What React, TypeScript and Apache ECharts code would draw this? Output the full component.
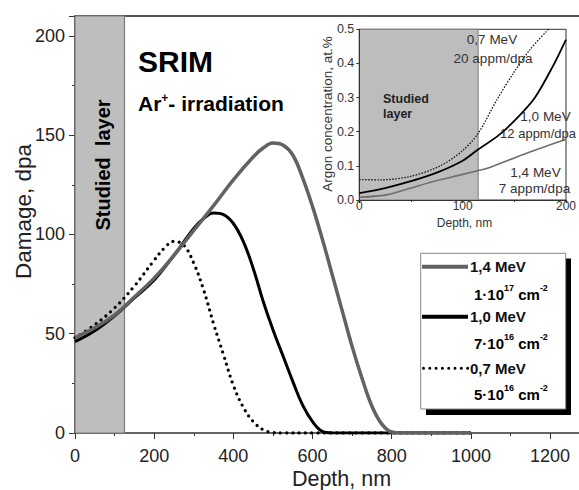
import React, { useEffect, useRef } from 'react';
import * as echarts from 'echarts';

const FONT = '"Liberation Sans", Arial, Helvetica, sans-serif';

// ---- Main chart: damage profiles (depth in nm, damage in dpa) ----
const depth14 = [0, 50, 100, 150, 200, 250, 300, 350, 400, 450, 475, 500, 525, 550, 575, 600, 625, 650, 675, 700, 725, 750, 775, 800, 825, 850, 1000];
const damage14 = [48, 53, 59.5, 68.5, 78, 89.5, 102, 114.5, 127.5, 139, 143.5, 146, 145, 140, 128.5, 114, 97.5, 79.5, 61.5, 43.5, 27.5, 13.5, 4.5, 0.5, 0, 0, 0];

const depth10 = [0, 50, 100, 150, 200, 250, 300, 325, 350, 375, 400, 425, 450, 475, 500, 525, 550, 575, 600, 625, 650, 675, 1000];
const damage10 = [46, 51.5, 59, 68, 77, 89.5, 103, 108, 110.8, 110, 105.5, 96.5, 83, 66.5, 52, 39, 26, 14, 5.7, 0.8, 0, 0, 0];

const depth07 = [0, 50, 100, 150, 200, 225, 250, 275, 300, 325, 350, 375, 400, 425, 450, 475, 500, 525, 550, 1000];
const damage07 = [48, 54.5, 63, 74, 87, 93, 96.5, 94.5, 85.5, 72, 55, 39.5, 24, 13, 5.8, 1.7, 0.2, 0, 0, 0];

const mainLayerDepth = 125; // nm
const mainXTicks = [0, 200, 400, 600, 800, 1000, 1200];
const mainYTicks = [0, 50, 100, 150, 200];

// ---- Inset: argon concentration (depth in nm, at.%) ----
const inDepth14 = [0, 26, 50, 70, 100, 115, 124, 160, 200];
const inConc14 = [0.008, 0.015, 0.035, 0.053, 0.075, 0.086, 0.093, 0.135, 0.178];

const inDepth10 = [0, 25, 50, 75, 100, 115, 135, 154, 170, 187, 200];
const inConc10 = [0.02, 0.035, 0.055, 0.08, 0.115, 0.148, 0.19, 0.244, 0.3, 0.39, 0.47];

const inDepth07 = [0, 20, 48, 77, 99, 115, 133, 149, 165, 183];
const inConc07 = [0.06, 0.059, 0.068, 0.098, 0.142, 0.195, 0.293, 0.371, 0.44, 0.5];

const insetLayerDepth = 115; // nm

const legendNames = ['1,4 MeV', '1,0 MeV', '0,7 MeV'];
const legendFluence = [
  { mant: '1·10', exp: '17' },
  { mant: '7·10', exp: '16' },
  { mant: '5·10', exp: '16' },
];

const zip = (xs: number[], ys: number[]) => xs.map((x, i) => [x, ys[i]]);

export default function App() {
  const ref = useRef<HTMLDivElement>(null);

  useEffect(() => {
    if (!ref.current) return;
    const chart = echarts.init(ref.current, undefined, { renderer: 'svg' });

    const axisLbl = { fontFamily: FONT, color: '#222' };

    const legendRich = {
      n: { fontSize: 15, fontWeight: 'bold', fontFamily: FONT, color: '#111', lineHeight: 22 },
      s: { fontSize: 9, fontWeight: 'bold', fontFamily: FONT, color: '#111', lineHeight: 7, verticalAlign: 'top' },
    };

    const legendRows = [266.7, 316.7, 368.3];
    const fluenceRows = [294.5, 343, 394.5];

    const graphics: any[] = [
      // Main texts
      { type: 'text', x: 138, y: 61, z: 10, style: { text: 'SRIM', fontSize: 30, fontWeight: 'bold', fontFamily: FONT, fill: '#000', align: 'left', verticalAlign: 'middle' } },
      {
        type: 'text', x: 138, y: 103.5, z: 10,
        style: {
          text: '{n|Ar}{s|+}{n|- irradiation}', verticalAlign: 'middle', align: 'left',
          rich: {
            n: { fontSize: 21, fontWeight: 'bold', fontFamily: FONT, color: '#000', lineHeight: 24 },
            s: { fontSize: 12, fontWeight: 'bold', fontFamily: FONT, color: '#000', lineHeight: 13, verticalAlign: 'top' },
          },
        },
      },
      {
        type: 'text', x: 102.5, y: 165, rotation: Math.PI / 2, z: 10,
        style: { text: 'Studied  layer', fontSize: 20, fontWeight: 'bold', fontFamily: FONT, fill: '#000', align: 'center', verticalAlign: 'middle' },
      },
      {
        type: 'text', x: 23.5, y: 211.5, rotation: Math.PI / 2, z: 10,
        style: { text: 'Damage, dpa', fontSize: 22.5, fontFamily: FONT, fill: '#222', align: 'center', verticalAlign: 'middle' },
      },
      {
        type: 'text', x: 341.5, y: 478.5, z: 10,
        style: { text: 'Depth, nm', fontSize: 21.5, fontFamily: FONT, fill: '#222', align: 'center', verticalAlign: 'middle' },
      },
      // Inset texts
      { type: 'text', x: 492, y: 39, z: 10, style: { text: '0,7 MeV', fontSize: 13.5, fontFamily: FONT, fill: '#333', align: 'center', verticalAlign: 'middle' } },
      { type: 'text', x: 493, y: 58.7, z: 10, style: { text: '20 appm/dpa', fontSize: 13.5, fontFamily: FONT, fill: '#333', align: 'center', verticalAlign: 'middle' } },
      { type: 'text', x: 545.5, y: 116, z: 10, style: { text: '1,0 MeV', fontSize: 13.5, fontFamily: FONT, fill: '#333', align: 'center', verticalAlign: 'middle' } },
      { type: 'text', x: 576, y: 133, z: 10, style: { text: '12 appm/dpa', fontSize: 13, fontFamily: FONT, fill: '#333', align: 'right', verticalAlign: 'middle' } },
      { type: 'text', x: 535.5, y: 172, z: 10, style: { text: '1,4 MeV', fontSize: 13.5, fontFamily: FONT, fill: '#333', align: 'center', verticalAlign: 'middle' } },
      { type: 'text', x: 534.5, y: 188, z: 10, style: { text: '7 appm/dpa', fontSize: 13.5, fontFamily: FONT, fill: '#333', align: 'center', verticalAlign: 'middle' } },
      { type: 'text', x: 383, y: 99, z: 10, style: { text: 'Studied', fontSize: 12.5, fontWeight: 'bold', fontFamily: FONT, fill: '#222', align: 'left', verticalAlign: 'middle' } },
      { type: 'text', x: 383, y: 114, z: 10, style: { text: 'layer', fontSize: 12.5, fontWeight: 'bold', fontFamily: FONT, fill: '#222', align: 'left', verticalAlign: 'middle' } },
      {
        type: 'text', x: 327.5, y: 114, rotation: Math.PI / 2, z: 10,
        style: { text: 'Argon concentration, at.%', fontSize: 13.5, fontFamily: FONT, fill: '#333', align: 'center', verticalAlign: 'middle' },
      },
      { type: 'text', x: 464.5, y: 222.5, z: 10, style: { text: 'Depth, nm', fontSize: 12, fontFamily: FONT, fill: '#333', align: 'center', verticalAlign: 'middle' } },
      // Legend box with shadow
      { type: 'rect', shape: { x: 426, y: 258.5, width: 145, height: 156.5 }, style: { fill: '#000' }, z: 20 },
      { type: 'rect', shape: { x: 420.7, y: 253.3, width: 145, height: 155.7 }, style: { fill: '#fff', stroke: '#888', lineWidth: 1 }, z: 21 },
      { type: 'line', shape: { x1: 422, y1: legendRows[0], x2: 468, y2: legendRows[0] }, style: { stroke: '#626262', lineWidth: 4 }, z: 22 },
      { type: 'line', shape: { x1: 422, y1: legendRows[1], x2: 468, y2: legendRows[1] }, style: { stroke: '#000', lineWidth: 4 }, z: 22 },
      { type: 'line', shape: { x1: 423.5, y1: legendRows[2], x2: 468, y2: legendRows[2] }, style: { stroke: '#000', lineWidth: 3, lineDash: [0, 6.3], lineCap: 'round' }, z: 22 },
    ];

    legendNames.forEach((name, i) => {
      graphics.push({
        type: 'text', x: 470, y: legendRows[i], z: 23,
        style: { text: name, fontSize: 15, fontWeight: 'bold', fontFamily: FONT, fill: '#111', align: 'left', verticalAlign: 'middle' },
      });
      const f = legendFluence[i];
      graphics.push({
        type: 'text', x: 474, y: fluenceRows[i], z: 23,
        style: {
          text: `{n|${f.mant}}{s|${f.exp}}{n| cm}{s|-2}`, align: 'left', verticalAlign: 'middle',
          rich: legendRich,
        },
      });
    });

    const option: any = {
      animation: false,
      backgroundColor: '#fff',
      grid: [
        { left: 75, top: 16, width: 504, height: 417, containLabel: false },
        { left: 359.3, top: 29.3, width: 210.7, height: 170.7, show: true, backgroundColor: '#fff', borderColor: '#333', borderWidth: 1, z: 5 },
      ],
      xAxis: [
        {
          gridIndex: 0, type: 'value', min: 0, max: 1273, interval: 200,
          axisLine: { onZero: false, lineStyle: { color: '#333', width: 1.5 } },
          axisTick: { show: true, inside: false, length: 6, lineStyle: { color: '#333', width: 1 } },
          minorTick: { show: true, splitNumber: 2, length: 3, lineStyle: { color: '#333', width: 1 } },
          axisLabel: {
            ...axisLbl, fontSize: 18, margin: 14, showMaxLabel: false,
            formatter: (v: number) => (mainXTicks.includes(v) ? String(v) : ''),
          },
          splitLine: { show: false },
        },
        {
          gridIndex: 0, type: 'value', position: 'top', min: 0, max: 1273,
          axisLine: { onZero: false, lineStyle: { color: '#555', width: 2 } },
          axisTick: { show: false }, axisLabel: { show: false }, splitLine: { show: false },
        },
        {
          gridIndex: 1, type: 'value', min: 0, max: 200, interval: 100,
          axisLine: { onZero: false, lineStyle: { color: '#333', width: 1 } },
          axisTick: { show: true, length: 3, lineStyle: { color: '#333' } },
          minorTick: { show: true, splitNumber: 2, length: 2, lineStyle: { color: '#333' } },
          axisLabel: { ...axisLbl, color: '#333', fontSize: 12, margin: 0 },
          splitLine: { show: false },
          z: 6,
        },
      ],
      yAxis: [
        {
          gridIndex: 0, type: 'value', min: 0, max: 210, interval: 50,
          axisLine: { show: true, onZero: false, lineStyle: { color: '#444', width: 2 } },
          axisTick: { show: true, inside: false, length: 6, lineStyle: { color: '#333', width: 1 } },
          minorTick: { show: true, splitNumber: 2, length: 3, lineStyle: { color: '#333', width: 1 } },
          axisLabel: {
            ...axisLbl, fontSize: 18, margin: 10, showMaxLabel: false,
            formatter: (v: number) => (mainYTicks.includes(v) ? String(v) : ''),
          },
          splitLine: { show: false },
        },
        {
          gridIndex: 1, type: 'value', min: 0, max: 0.5, interval: 0.1,
          axisLine: { show: true, onZero: false, lineStyle: { color: '#333', width: 1 } },
          axisTick: { show: true, length: 3, lineStyle: { color: '#333' } },
          axisLabel: { ...axisLbl, color: '#333', fontSize: 12.5, margin: 5, formatter: (v: number) => v.toFixed(1) },
          splitLine: { show: false },
          z: 6,
        },
      ],
      graphic: graphics,
      series: [
        {
          type: 'line', name: '1,4 MeV', xAxisIndex: 0, yAxisIndex: 0, data: zip(depth14, damage14),
          showSymbol: false, smooth: 0.4, z: 4,
          lineStyle: { color: '#626262', width: 3.5 },
          markArea: {
            silent: true, z: 1,
            itemStyle: { color: '#bebebe', borderColor: '#7c7c7c', borderWidth: 1.2 },
            data: [[{ xAxis: 0, yAxis: 0 }, { xAxis: mainLayerDepth, yAxis: 210 }]],
          },
        },
        {
          type: 'line', name: '1,0 MeV', xAxisIndex: 0, yAxisIndex: 0, data: zip(depth10, damage10),
          showSymbol: false, smooth: 0.4, z: 3,
          lineStyle: { color: '#000', width: 3 },
        },
        {
          type: 'line', name: '0,7 MeV', xAxisIndex: 0, yAxisIndex: 0, data: zip(depth07, damage07),
          showSymbol: false, smooth: 0.4, z: 3,
          lineStyle: { color: '#000', width: 3.3, type: [0, 6.3], cap: 'round' },
        },
        {
          type: 'line', xAxisIndex: 2, yAxisIndex: 1, data: zip(inDepth14, inConc14),
          showSymbol: false, smooth: 0.3, z: 7,
          lineStyle: { color: '#6e6e6e', width: 1.6 },
          markArea: {
            silent: true, z: 6,
            itemStyle: { color: '#bdbdbd', borderColor: '#7c7c7c', borderWidth: 1 },
            data: [[{ xAxis: 0, yAxis: 0 }, { xAxis: insetLayerDepth, yAxis: 0.5 }]],
          },
        },
        {
          type: 'line', xAxisIndex: 2, yAxisIndex: 1, data: zip(inDepth10, inConc10),
          showSymbol: false, smooth: 0.3, z: 7,
          lineStyle: { color: '#000', width: 1.8 },
        },
        {
          type: 'line', xAxisIndex: 2, yAxisIndex: 1, data: zip(inDepth07, inConc07),
          showSymbol: false, smooth: 0.3, z: 7,
          lineStyle: { color: '#111', width: 1.3, type: [1.5, 1.5] },
        },
      ],
    };

    chart.setOption(option);
    return () => chart.dispose();
  }, []);

  return (
    <div
      ref={ref}
      style={{ position: 'absolute', left: 0, top: 0, width: 579, height: 490 }}
    />
  );
}
